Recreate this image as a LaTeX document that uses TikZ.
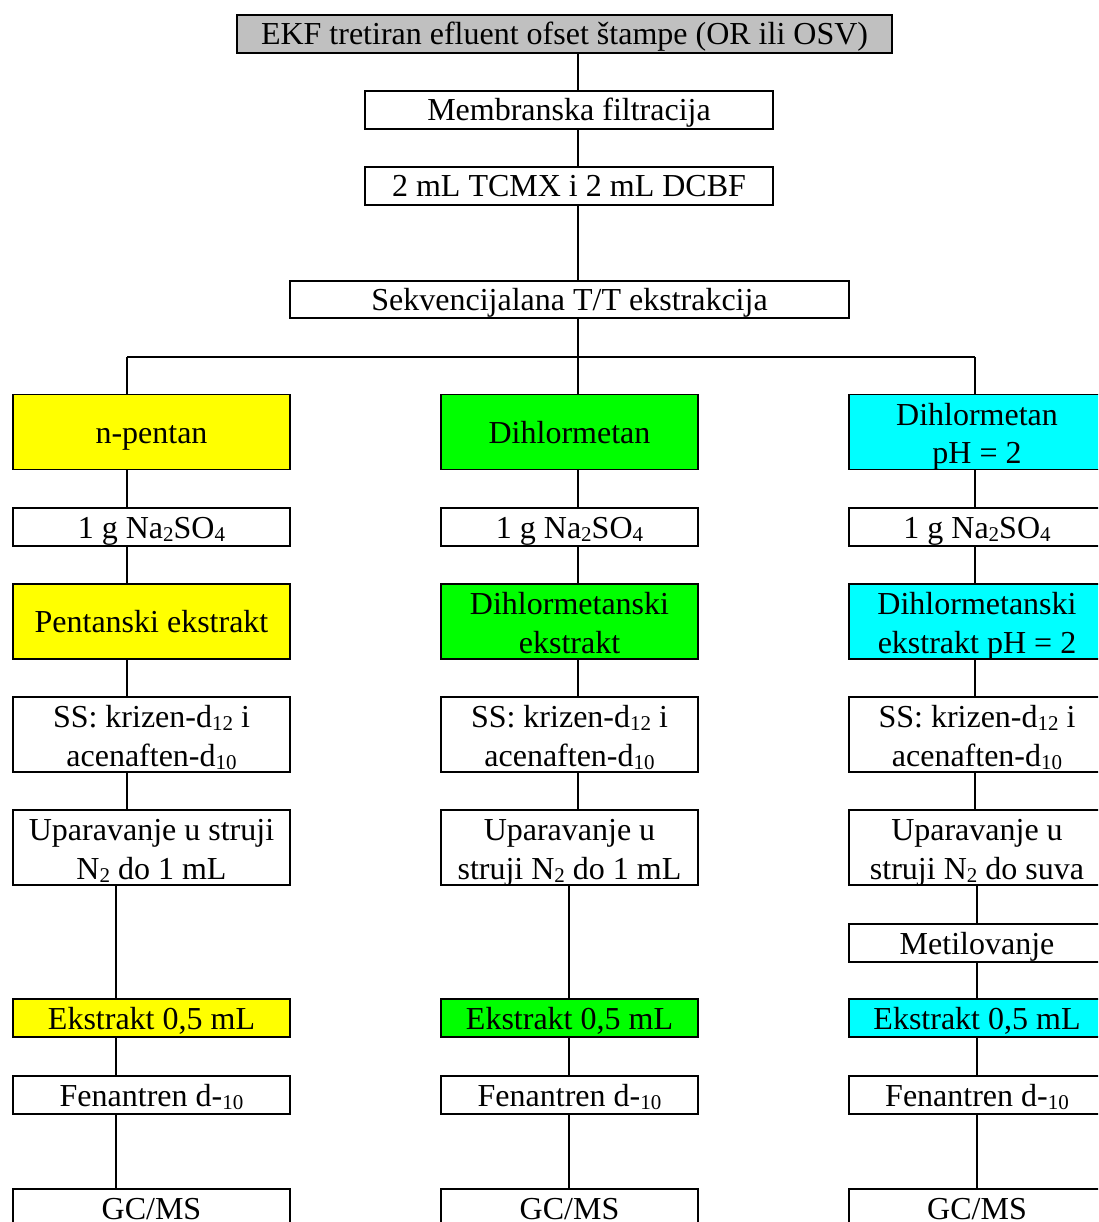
\documentclass[tikz,border=0pt]{standalone}
\usepackage{fontspec}
\setmainfont{Liberation Serif}
\newcommand\fsz{\fontsize{32}{38.5}\selectfont}
\newcommand\sbs[1]{\raisebox{-3pt}{\fontsize{21}{21}\selectfont #1}}
\newcommand\tl[2]{\begin{tabular}[t]{@{}c@{}}#1\\#2\end{tabular}}
\definecolor{ygl}{HTML}{FFFF00}
\definecolor{grn}{HTML}{00FF00}
\definecolor{cyn}{HTML}{00FFFF}
\definecolor{gry}{HTML}{C0C0C0}
\begin{document}
\begin{tikzpicture}[x=1pt,y=-1pt,
  box/.style={draw, line width=1.6pt, inner sep=0pt, outer sep=0pt, font=\fsz, fill=white,
    text height=28pt, text depth=6pt},
  colL/.style={box, minimum width=277pt},
  colM/.style={box, minimum width=257pt},
  colR/.style={box, minimum width=256pt},
  hone/.style={minimum height=38pt},
  htwo/.style={minimum height=75pt},
  twoline/.style={text height=10pt, text depth=24pt},
  conn/.style={line width=1.6pt}]
\clip (0,0) rectangle (1098,1222);
% top part
\node[box, fill=gry, minimum width=655pt, minimum height=38pt] (top) at (564.5,34) {EKF tretiran efluent ofset štampe (OR ili OSV)};
\node[box, minimum width=408pt, minimum height=38pt] (mf) at (569,110) {Membranska filtracija};
\node[box, minimum width=408pt, minimum height=38pt] (tc) at (569,186) {2 mL TCMX i 2 mL DCBF};
\node[box, minimum width=559pt, minimum height=37pt] (sk) at (569.5,299.5) {Sekvencijalana T/T ekstrakcija};
% left column
\node[colL, htwo, fill=ygl] (L1) at (151.5,432) {n-pentan};
\node[colL, hone] (L2) at (151.5,527) {1 g Na\sbs{2}SO\sbs{4}};
\node[colL, htwo, fill=ygl] (L3) at (151.5,621.5) {Pentanski ekstrakt};
\node[colL, htwo, twoline] (L4) at (151.5,734.5) {\tl{SS: krizen-d\sbs{12} i}{acenaften-d\sbs{10}}};
\node[colL, htwo, twoline] (L5) at (151.5,847.5) {\tl{Uparavanje u struji}{N\sbs{2} do 1 mL}};
\node[colL, hone, fill=ygl] (L6) at (151.5,1018) {Ekstrakt 0,5 mL};
\node[colL, hone] (L7) at (151.5,1095) {Fenantren d-\sbs{10}};
\node[colL, hone] (L8) at (151.5,1208) {GC/MS};
% middle column
\node[colM, htwo, fill=grn] (M1) at (569.5,432) {Dihlormetan};
\node[colM, hone] (M2) at (569.5,527) {1 g Na\sbs{2}SO\sbs{4}};
\node[colM, htwo, twoline, fill=grn] (M3) at (569.5,621.5) {\tl{Dihlormetanski}{ekstrakt}};
\node[colM, htwo, twoline] (M4) at (569.5,734.5) {\tl{SS: krizen-d\sbs{12} i}{acenaften-d\sbs{10}}};
\node[colM, htwo, twoline] (M5) at (569.5,847.5) {\tl{Uparavanje u}{struji N\sbs{2} do 1 mL}};
\node[colM, hone, fill=grn] (M6) at (569.5,1018) {Ekstrakt 0,5 mL};
\node[colM, hone] (M7) at (569.5,1095) {Fenantren d-\sbs{10}};
\node[colM, hone] (M8) at (569.5,1208) {GC/MS};
% right column
\node[colR, htwo, twoline, fill=cyn] (R1) at (977,432) {\tl{Dihlormetan}{pH = 2}};
\node[colR, hone] (R2) at (977,527) {1 g Na\sbs{2}SO\sbs{4}};
\node[colR, htwo, twoline, fill=cyn] (R3) at (977,621.5) {\tl{Dihlormetanski}{ekstrakt pH = 2}};
\node[colR, htwo, twoline] (R4) at (977,734.5) {\tl{SS: krizen-d\sbs{12} i}{acenaften-d\sbs{10}}};
\node[colR, htwo, twoline] (R5) at (977,847.5) {\tl{Uparavanje u}{struji N\sbs{2} do suva}};
\node[colR, hone] (RM) at (977,943) {Metilovanje};
\node[colR, hone, fill=cyn] (R6) at (977,1018) {Ekstrakt 0,5 mL};
\node[colR, hone] (R7) at (977,1095) {Fenantren d-\sbs{10}};
\node[colR, hone] (R8) at (977,1208) {GC/MS};
% connector guide coordinates
\coordinate (sx) at (578,0);
\coordinate (brL) at (127,357);
\coordinate (brM) at (578,357);
\coordinate (brR) at (975,357);
\coordinate (xL) at (116,0);
\coordinate (xM) at (569,0);
\coordinate (xR) at (977,0);
% top connectors
\draw[conn] (top.south -| sx) -- (mf.north -| sx);
\draw[conn] (mf.south -| sx) -- (tc.north -| sx);
\draw[conn] (tc.south -| sx) -- (sk.north -| sx);
\draw[conn] (sk.south -| sx) -- (brM);
\draw[conn] (brL) -- (brR);
\draw[conn] (brL) -- (L1.north -| brL);
\draw[conn] (brM) -- (M1.north -| brM);
\draw[conn] (brR) -- (R1.north -| brR);
% upper column connectors
\foreach \a/\b in {L1/L2,L2/L3,L3/L4,L4/L5}{\draw[conn] (\a.south -| brL) -- (\b.north -| brL);}
\foreach \a/\b in {M1/M2,M2/M3,M3/M4,M4/M5}{\draw[conn] (\a.south -| brM) -- (\b.north -| brM);}
\foreach \a/\b in {R1/R2,R2/R3,R3/R4,R4/R5}{\draw[conn] (\a.south -| brR) -- (\b.north -| brR);}
% lower column connectors
\foreach \a/\b in {L5/L6,L6/L7,L7/L8}{\draw[conn] (\a.south -| xL) -- (\b.north -| xL);}
\foreach \a/\b in {M5/M6,M6/M7,M7/M8}{\draw[conn] (\a.south -| xM) -- (\b.north -| xM);}
\foreach \a/\b in {R5/RM,RM/R6,R6/R7,R7/R8}{\draw[conn] (\a.south -| xR) -- (\b.north -| xR);}
\end{tikzpicture}
\end{document}
